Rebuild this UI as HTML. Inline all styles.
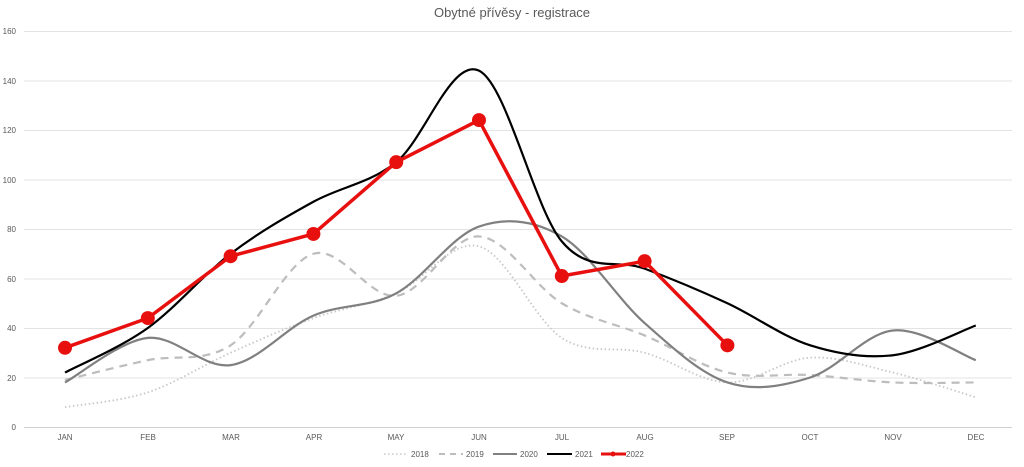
<!DOCTYPE html>
<html><head><meta charset="utf-8"><style>
body{margin:0;background:#fff;}
svg text{font-family:"Liberation Sans",sans-serif;fill:#595959;}
</style></head><body>
<svg id="s" width="1024" height="462" xmlns="http://www.w3.org/2000/svg">
<text x="512" y="17" font-size="13" text-anchor="middle">Obytné přívěsy - registrace</text>
<g stroke="#e3e3e3" stroke-width="1">
<line x1="24" x2="1012" y1="31.5" y2="31.5"/><line x1="24" x2="1012" y1="81" y2="81"/>
<line x1="24" x2="1012" y1="130.5" y2="130.5"/><line x1="24" x2="1012" y1="180" y2="180"/>
<line x1="24" x2="1012" y1="229.5" y2="229.5"/><line x1="24" x2="1012" y1="279" y2="279"/>
<line x1="24" x2="1012" y1="328.5" y2="328.5"/><line x1="24" x2="1012" y1="378" y2="378"/>
</g>
<line x1="24" x2="1012" y1="427.5" y2="427.5" stroke="#d0d0d0"/>
<g font-size="8" text-anchor="end">
<text x="16" y="34">160</text><text x="16" y="84">140</text><text x="16" y="133">120</text>
<text x="16" y="183">100</text><text x="16" y="232">80</text><text x="16" y="282">60</text>
<text x="16" y="331">40</text><text x="16" y="381">20</text><text x="16" y="430">0</text>
</g>
<g font-size="8" text-anchor="middle">
<text x="65" y="440">JAN</text><text x="148" y="440">FEB</text><text x="231" y="440">MAR</text>
<text x="314" y="440">APR</text><text x="396" y="440">MAY</text><text x="479" y="440">JUN</text>
<text x="562" y="440">JUL</text><text x="645" y="440">AUG</text><text x="727" y="440">SEP</text>
<text x="810" y="440">OCT</text><text x="893" y="440">NOV</text><text x="976" y="440">DEC</text>
</g>
<g id="series"></g>
<g font-size="8">
<line x1="384" x2="408" y1="454" y2="454" stroke="#c8c8c8" stroke-width="1.5" stroke-dasharray="1.5 2.5"/>
<text x="411" y="457">2018</text>
<line x1="439" x2="463" y1="454" y2="454" stroke="#bdbdbd" stroke-width="2" stroke-dasharray="6 5"/>
<text x="466" y="457">2019</text>
<line x1="493" x2="517" y1="454" y2="454" stroke="#808080" stroke-width="2"/>
<text x="520" y="457">2020</text>
<line x1="547" x2="572" y1="454" y2="454" stroke="#000" stroke-width="2"/>
<text x="575" y="457">2021</text>
<line x1="601" x2="626" y1="454" y2="454" stroke="#e8100f" stroke-width="3"/>
<circle cx="613" cy="454" r="2.5" fill="#e8100f"/>
<text x="626" y="457">2022</text>
</g>
</svg>
<script>
var X=i=>65+82.8*i, Y=v=>427-v*2.475;
function path(d,smooth){var p=d.map((v,i)=>[X(i),Y(v)]);var s="M"+p[0][0]+","+p[0][1];
for(var i=0;i<p.length-1;i++){if(!smooth){s+="L"+p[i+1][0]+","+p[i+1][1];continue;}
var p0=p[i-1]||p[i],p1=p[i],p2=p[i+1],p3=p[i+2]||p2,t=0.5/3*1.0;
var c1=[p1[0]+(p2[0]-p0[0])*t,p1[1]+(p2[1]-p0[1])*t],c2=[p2[0]-(p3[0]-p1[0])*t,p2[1]-(p3[1]-p1[1])*t];
s+="C"+c1+" "+c2+" "+p2;}return s;}
var S=[[[8,14,30,44,54,73,36,30,18,28,22,12],'stroke="#c8c8c8" stroke-width="1.8" stroke-dasharray="1.5 2.5"'],
[[19,27,33,70,53,77,50,37,22,21,18,18],'stroke="#bdbdbd" stroke-width="2.2" stroke-dasharray="8 6"'],
[[18,36,25,45,54,81,77,42,18,20,39,27],'stroke="#808080" stroke-width="2.2"'],
[[22,40,70,91,107,144,75,64,50,33,29,41],'stroke="#000" stroke-width="2.2"']];
var h="";S.forEach(a=>h+='<path d="'+path(a[0],1)+'" fill="none" '+a[1]+'/>');
var r=[32,44,69,78,107,124,61,67,33];
h+='<path d="'+path(r,0)+'" fill="none" stroke="#e8100f" stroke-width="3.5" stroke-linejoin="round"/>';
r.forEach((v,i)=>h+='<circle cx="'+X(i)+'" cy="'+Y(v)+'" r="7" fill="#e8100f"/>');
document.getElementById("series").innerHTML=h;
</script>
</body></html>
